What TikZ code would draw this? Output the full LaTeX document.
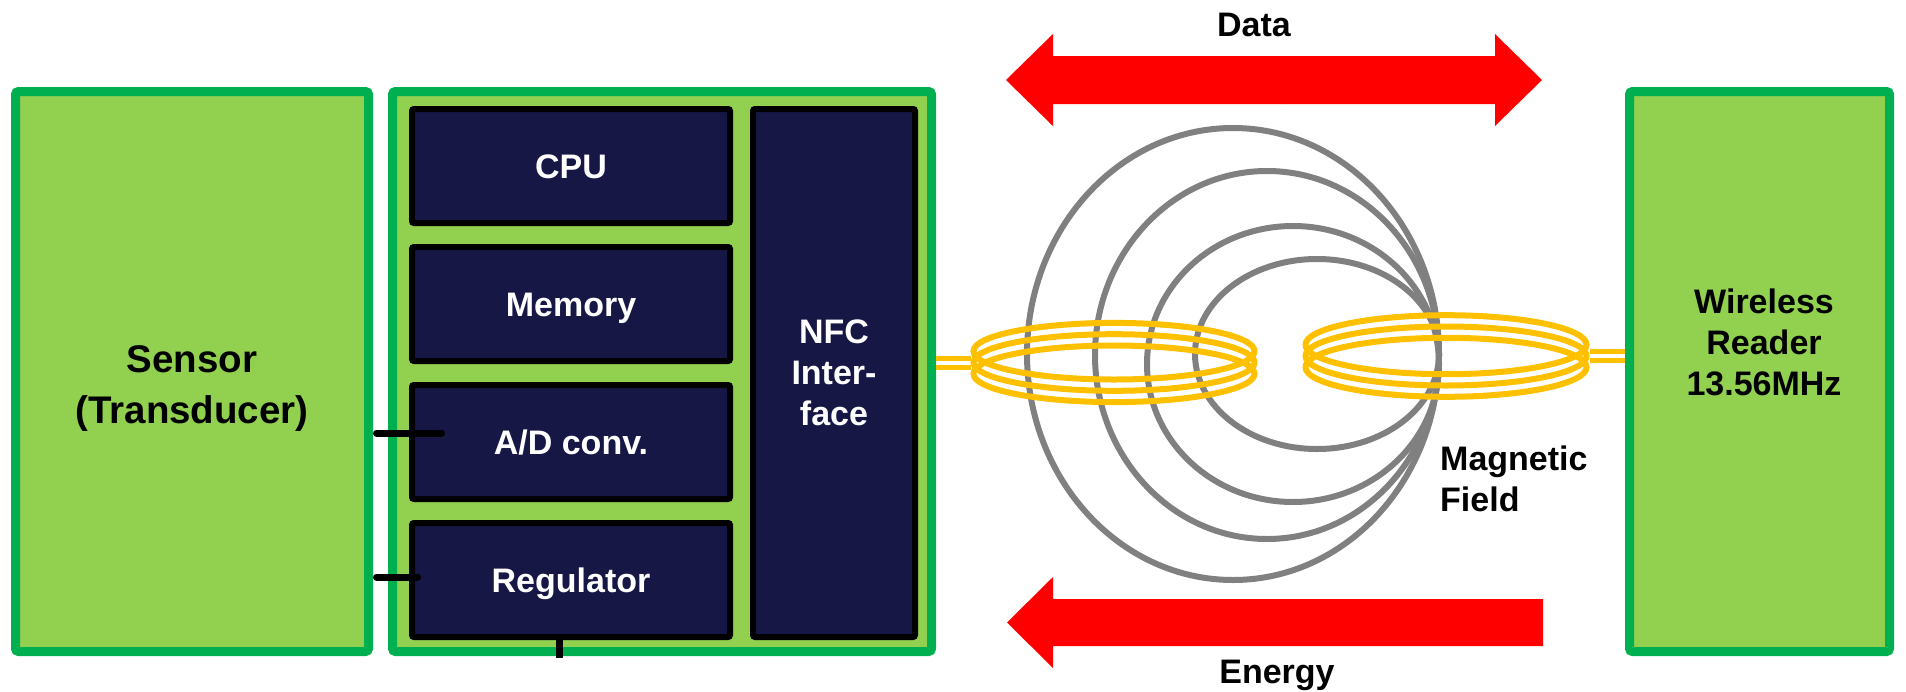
\documentclass[tikz,border=0pt]{standalone}
\usepackage{fontspec}
\setmainfont{Liberation Sans}
\usepackage{tikz}
\usetikzlibrary{shapes.geometric}
\definecolor{BoardFill}{RGB}{146,208,80}
\definecolor{BoardEdge}{RGB}{0,176,80}
\definecolor{ChipNavy}{RGB}{23,23,69}
\definecolor{CoilGold}{RGB}{255,192,0}
\definecolor{FieldGray}{RGB}{128,128,128}
\definecolor{ArrowRed}{RGB}{255,0,0}
\newcommand{\tagfont}{\fontsize{34}{41}\selectfont\bfseries}

\begin{document}
\begin{tikzpicture}[x=1pt,y=-1pt,
  board/.style n args={2}{draw=BoardEdge,fill=BoardFill,line width=9pt,rounded corners=3pt,minimum width=#1,minimum height=#2,inner sep=0pt},
  chip/.style n args={2}{draw=black,fill=ChipNavy,line width=6pt,rounded corners=2pt,minimum width=#1,minimum height=#2,inner sep=0pt,text=white,align=center,font=\tagfont},
  ring/.style={ellipse,draw=CoilGold,line width=6pt,minimum width=281pt,minimum height=#1,inner sep=0pt},
  lead/.style={draw=CoilGold,line width=5pt},
  fieldline/.style={draw=FieldGray,line width=6pt},
  wire/.style={line width=7pt,line cap=round},
  txt/.style={inner sep=0pt,align=center,font=\tagfont}]
\useasboundingbox (0,0) rectangle (1906,691);

% sensor, tag board and reader
\node[board={353pt}{560pt}] (sensor) at (192,371.5) {};
\node[board={539pt}{560pt}] (mcu) at (662,371.5) {};
\node[board={260pt}{560pt}] (reader) at (1759.5,371.5) {};

\foreach \y/\nm/\t in {166/cpu/CPU,304/mem/Memory,442/adc/{A/D conv.},580/reg/Regulator} {
   \node[chip={318pt}{114pt},text height=24pt,text depth=0pt] (\nm) at (571,\y) {\t};
}
\node[chip={162pt}{528pt}] (nfc) at (834,373) {NFC\\Inter-\\face};

% sensor lines
\draw[wire] (sensor.east |- adc.west) ++(3.5,-9) -- ++(65,0);
\draw[wire] (sensor.east |- reg.west) ++(3.5,-3) -- ++(41,0);
\draw[wire,line cap=butt] (reg.south) ++(-12,-3) -- ++(0,21);

% field lines, all touching at one point
\coordinate (fieldtip) at (1439,357);
\foreach \rx/\dy/\ry in {206/-3/226,172/-2/184,146/7/138,122/-3/95} {
   \draw[fieldline] (fieldtip) ++(-\rx,\dy) ellipse [x radius=\rx,y radius=\ry];
}

% antenna coils
\foreach \i/\d in {1/-11.3,2/0,3/11.3} {
   \node[ring=56.6pt] (tag\i) at (1114,{362.5+\d}) {};
   \node[ring=59pt] (rdr\i) at (1446,{356+\d}) {};
}
\foreach \d in {-4.5,4.5} {
   \draw[lead] ([yshift=\d pt]tag2.west -| mcu.east) -- ([yshift=\d pt]tag2.west);
   \draw[lead] ([yshift=\d pt]rdr2.east) -- ([yshift=\d pt]rdr2.east -| reader.west);
}

% data both ways, energy to the tag
\fill[ArrowRed] (1287,56) -| (1053,34) -- (1006,80) -- (1053,126) |- (1287,104) -- cycle;
\fill[ArrowRed] (1287,56) -| (1495,34) -- (1542,80) -- (1495,126) |- (1287,104) -- cycle;
\fill[ArrowRed] (1543,599) -| (1053,577) -- (1007,622.5) -- (1053,668) |- (1543,646) -- cycle;

\node[txt,font=\fontsize{38.5}{51}\selectfont\bfseries] (sensorlbl) at (192,389) {Sensor\\(Transducer)};
\node[txt] (readerlbl) at (1764,342.5) {Wireless\\Reader\\13.56MHz};
\node[txt] (datalbl) at (1254,25) {Data};
\node[txt,anchor=base] (energylbl) at (1277,683) {Energy};
\node[txt,align=left,anchor=west] (fieldlbl) at (1440,479) {Magnetic\\Field};
\end{tikzpicture}
\end{document}
